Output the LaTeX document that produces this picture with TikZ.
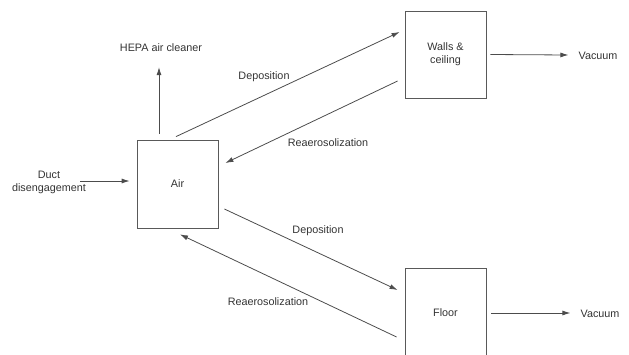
\documentclass[tikz,border=0pt]{standalone}
\usepackage{fontspec}
\setmainfont{Liberation Sans}
\usepackage{tikz}
\usetikzlibrary{arrows.meta}

\begin{document}
\begin{tikzpicture}[x=1pt, y=-1pt,
    box/.style={draw=black!65, line width=0.8pt, minimum width=81pt, inner sep=0pt, text=black!80},
    lbl/.style={inner sep=0pt, text=black!80, font=\fontsize{10.8}{13}\selectfont},
    flow/.style={draw=black!70, line width=0.8pt, -{Latex[length=8pt,width=5pt]}}]
  \useasboundingbox (0,0) rectangle (629,354);
  % boxes
  \node[box, minimum height=88pt, font=\fontsize{10.8}{13}\selectfont] (air) at (177.5,184) {Air};
  \node[box, minimum height=87pt, font=\fontsize{10.8}{13}\selectfont, align=center] (walls) at (445.5,54.5) {Walls \&\\ceiling};
  \node[box, minimum height=90pt, font=\fontsize{10.8}{13}\selectfont] (floor) at (445.5,313) {Floor};
  % outside labels
  \node[lbl] (hepa) at (161,48) {HEPA air cleaner};
  \node[lbl, align=center] (duct) at (49,182.5) {Duct\\disengagement};
  \node[lbl] (vac1) at (598,56) {Vacuum};
  \node[lbl] (vac2) at (600,314) {Vacuum};
  % flows
  \draw[flow] ([xshift=-18.5pt,yshift=6pt]air.north) -- ([xshift=-2pt,yshift=-15pt]hepa.south);
  \draw[flow] ([xshift=-6pt,yshift=1.5pt]duct.east) -- ([xshift=-7pt,yshift=3pt]air.west);
  \draw[flow] ([xshift=-1.5pt,yshift=3pt]air.north) -- ([xshift=-5pt,yshift=22.5pt]walls.west);
  \node[lbl] (dep1) at (264,77) {Deposition};
  \draw[flow] ([xshift=-7pt,yshift=-26.5pt]walls.west) -- ([xshift=7pt,yshift=21pt]air.east);
  \node[lbl] (rea1) at (328,143) {Reaerosolization};
  \draw[flow] ([xshift=6pt,yshift=-25pt]air.east) -- ([xshift=-7pt,yshift=23pt]floor.west);
  \node[lbl] (dep2) at (318,231) {Deposition};
  \draw[flow] ([xshift=-8pt,yshift=-24pt]floor.west) -- ([xshift=2.5pt,yshift=-6pt]air.south);
  \node[lbl] (rea2) at (268,302) {Reaerosolization};
  \draw[flow] ([xshift=4pt]walls.east) -- ([xshift=-10pt,yshift=1pt]vac1.west);
  \draw[flow] ([xshift=5pt]floor.east) -- ([xshift=-10pt,yshift=1pt]vac2.west);
\end{tikzpicture}
\end{document}
